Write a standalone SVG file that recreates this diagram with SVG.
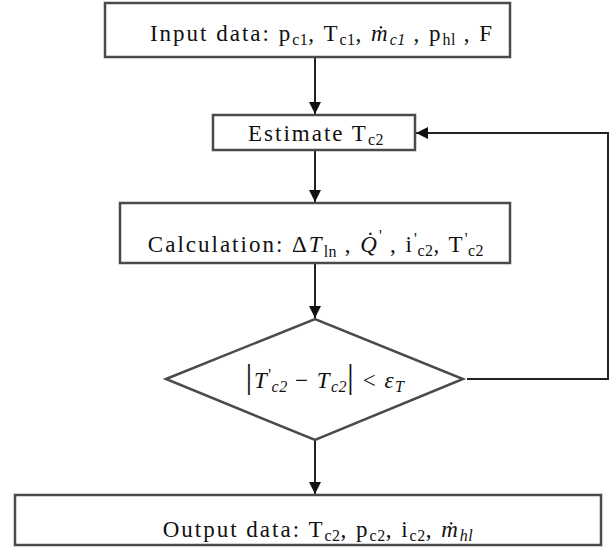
<svg xmlns="http://www.w3.org/2000/svg" width="615" height="548" viewBox="0 0 615 548">
<style>
.box{fill:#fff;stroke:#4a4a4a;stroke-width:2.5}
.ln{fill:none;stroke:#222;stroke-width:2}
text{font-family:"Liberation Serif","Times New Roman",serif;font-size:23px;letter-spacing:2px;fill:#111}
.sub{font-size:16px;letter-spacing:0.5px}
.it{font-style:italic}
</style>
<defs>
<marker id="ah" markerUnits="userSpaceOnUse" markerWidth="12" markerHeight="12" refX="12" refY="6" orient="auto">
<path d="M0,0 L12,6 L0,12 z" fill="#111"/>
</marker>
</defs>
<rect width="615" height="548" fill="#fff"/>
<g id="connectors">
<path class="ln" d="M315,57 V114" marker-end="url(#ah)"/>
<path class="ln" d="M315,150 V202" marker-end="url(#ah)"/>
<path class="ln" d="M315,263 V318" marker-end="url(#ah)"/>
<path class="ln" d="M315,440 V494" marker-end="url(#ah)"/>
<path class="ln" d="M467,379 H608 V133 H416" marker-end="url(#ah)"/>
</g>
<g id="input">
<rect class="box" x="105" y="3" width="405" height="54"/>
<text x="322" y="41" text-anchor="middle">Input data: p<tspan class="sub" baseline-shift="-4">c1</tspan>, T<tspan class="sub" baseline-shift="-4">c1</tspan>, <tspan class="it">ṁ</tspan><tspan class="sub it" baseline-shift="-4">c1</tspan> , p<tspan class="sub" baseline-shift="-4">hl</tspan> , F</text>
</g>
<g id="estimate">
<rect class="box" x="213" y="115" width="202" height="35"/>
<text x="316" y="141" text-anchor="middle">Estimate T<tspan class="sub" baseline-shift="-4">c2</tspan></text>
</g>
<g id="calculation">
<rect class="box" x="120" y="203" width="390" height="60"/>
<text x="316" y="252" text-anchor="middle">Calculation:  Δ<tspan class="it">T</tspan><tspan class="sub" baseline-shift="-5">ln</tspan> ,  <tspan class="it">Q̇</tspan><tspan class="sub" baseline-shift="11">'</tspan>  , i<tspan class="sub" baseline-shift="8">'</tspan><tspan class="sub" baseline-shift="-4">c2</tspan>, T<tspan class="sub" baseline-shift="8">'</tspan><tspan class="sub" baseline-shift="-4">c2</tspan></text>
</g>
<g id="decision">
<polygon class="box" points="166,379 315,319 463,379 315,440"/>
<text x="325" y="388" text-anchor="middle" style="font-size:23px;letter-spacing:1.5px"><tspan font-size="34">|</tspan><tspan class="it">T</tspan><tspan class="sub" baseline-shift="8">'</tspan><tspan class="sub it" baseline-shift="-4">c2</tspan> − <tspan class="it">T</tspan><tspan class="sub it" baseline-shift="-4">c2</tspan><tspan font-size="34">|</tspan> &lt; <tspan class="it">ε</tspan><tspan class="sub it" baseline-shift="-4">T</tspan></text>
</g>
<g id="output">
<rect class="box" x="15" y="495" width="586" height="50"/>
<text x="318" y="537" text-anchor="middle">Output data: T<tspan class="sub" baseline-shift="-4">c2</tspan>, p<tspan class="sub" baseline-shift="-4">c2</tspan>, i<tspan class="sub" baseline-shift="-4">c2</tspan>,  <tspan class="it">ṁ</tspan><tspan class="sub it" baseline-shift="-4">hl</tspan></text>
</g>
</svg>
